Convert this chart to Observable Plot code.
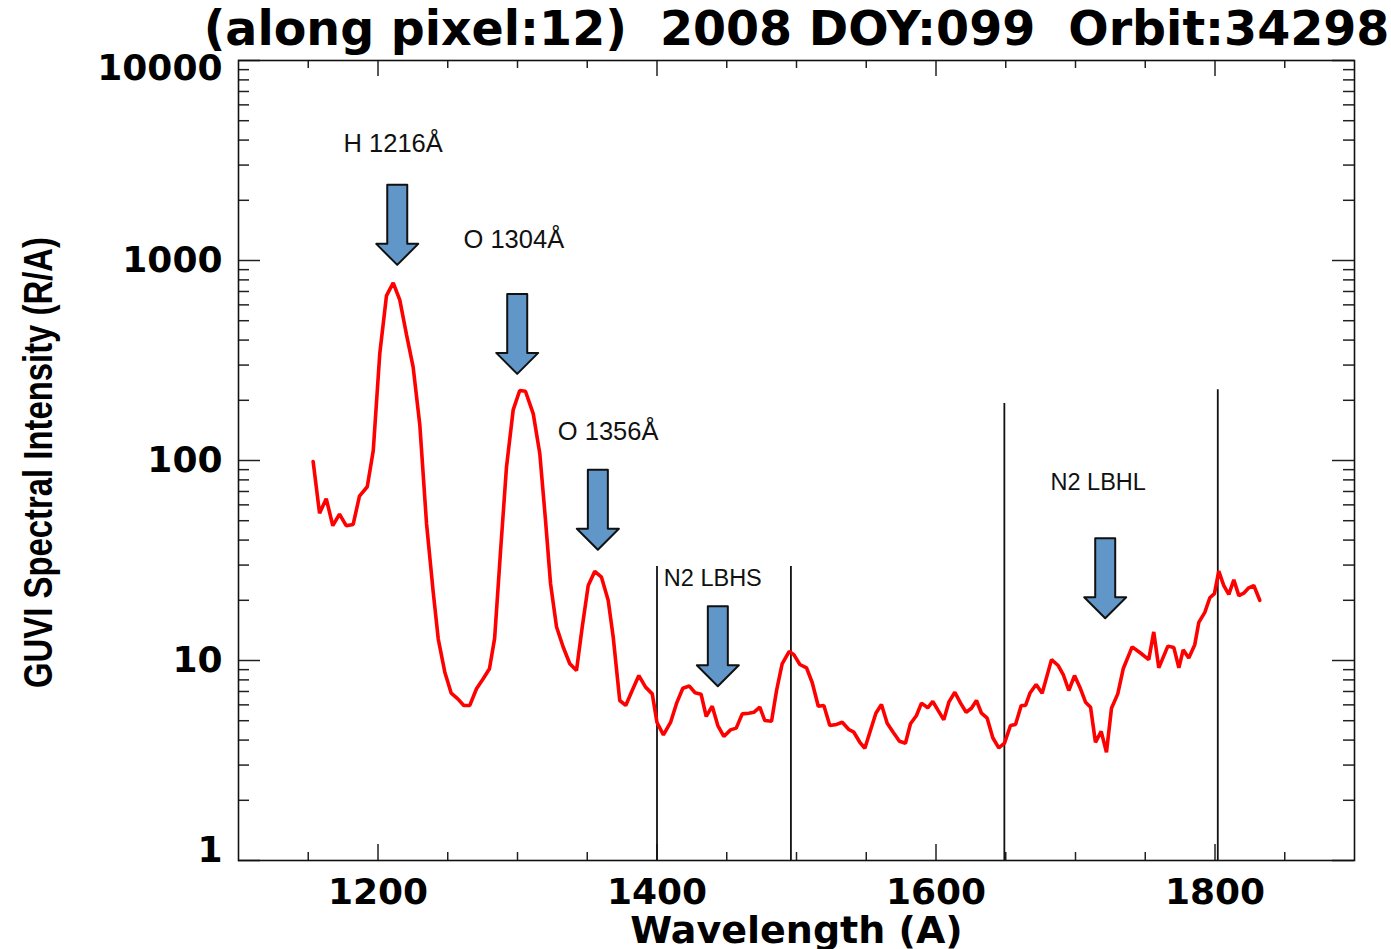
<!DOCTYPE html>
<html><head><meta charset="utf-8">
<script src="https://cdn.jsdelivr.net/npm/d3@7"></script>
<script src="https://cdn.jsdelivr.net/npm/@observablehq/plot@0.6"></script>
<style>
body{margin:0;background:#fff;overflow:hidden}
svg{display:block}
svg text{white-space:pre}
</style>
</head><body><div id="chart"></div>
<script>
// ---- data ----
const wavelength = [1153.5,1158.1,1162.9,1167.6,1172.4,1177.2,1182.2,1186.7,1192.3,1196.6,
1201.3,1206.1,1210.9,1215.6,1220.4,1225.2,1230.0,1234.8,1239.6,1243.2,
1247.9,1252.5,1257.2,1261.5,1265.8,1270.6,1275.4,1279.9,1283.6,1287.8,
1292.1,1296.9,1301.6,1305.7,1311.3,1316.0,1320.1,1323.7,1328.0,1332.8,
1337.5,1342.3,1346.4,1350.7,1355.4,1360.2,1365.0,1368.6,1373.3,1377.6,
1382.2,1387.0,1391.8,1396.6,1400.0,1404.6,1409.7,1414.0,1418.5,1423.2,
1427.3,1431.6,1435.3,1439.6,1443.6,1447.9,1452.7,1456.8,1461.1,1465.8,
1469.4,1473.7,1477.3,1482.1,1485.7,1489.7,1494.8,1498.1,1502.4,1507.2,
1511.3,1515.6,1519.6,1523.9,1528.7,1532.8,1537.5,1541.1,1545.4,1549.0,
1553.0,1556.9,1560.9,1565.0,1569.3,1573.8,1578.1,1581.7,1586.0,1589.6,
1594.1,1597.7,1601.6,1605.6,1609.2,1613.5,1617.6,1621.6,1625.4,1629.0,
1632.6,1636.7,1640.7,1645.0,1649.1,1653.4,1657.0,1661.1,1664.2,1667.5,
1671.8,1676.1,1682.8,1687.6,1691.2,1695.2,1699.3,1703.6,1707.2,1710.8,
1714.3,1718.4,1722.2,1725.8,1730.3,1734.2,1740.6,1746.6,1752.5,1756.1,
1759.7,1766.2,1770.5,1774.1,1777.2,1781.2,1785.5,1788.4,1792.7,1796.3,
1799.6,1802.7,1806.3,1809.9,1813.5,1817.1,1820.6,1824.2,1827.8,1832.1];
const intensity = [98.9,54.5,64.4,47.2,53.9,47.2,47.9,66.3,73.9,112,
344,668,773,636,427,293,150,48.3,21.9,12.8,
8.74,6.86,6.43,5.96,5.96,7.22,8.10,9.09,12.9,34.8,
92.6,179,224,222,171,108,50.1,24.2,14.7,11.65,
9.63,8.91,14.7,23.7,27.9,26.1,20.0,13.1,6.31,5.96,
7.08,8.41,7.36,6.81,4.9,4.25,4.9,6.1,7.27,7.45,
6.9,6.78,5.25,5.91,4.73,4.17,4.50,4.59,5.41,5.45,
5.51,5.84,5.01,4.97,7.08,9.63,11.1,10.7,9.55,9.19,
7.74,5.91,5.96,4.73,4.79,4.91,4.52,4.38,3.90,3.64,
4.47,5.45,6.03,4.86,4.38,3.95,3.86,4.83,5.31,6.12,
5.80,6.24,5.62,5.05,6.19,6.94,6.12,5.51,5.77,6.31,
5.45,5.15,4.11,3.66,3.86,4.73,4.79,5.96,5.96,6.9,
7.59,6.86,10.1,9.44,8.51,7.08,8.41,7.22,6.19,5.84,
3.90,4.42,3.48,5.77,6.81,9.09,11.7,10.9,10.1,13.9,
9.19,11.8,11.6,9.19,11.3,10.3,12.0,15.5,17.4,20.6,
21.6,28.0,23.7,21.4,25.3,21.1,21.7,23.1,23.7,20.0];

const xMajorTicks = [1200,1400,1600,1800];
const xMinorTicks = [1150,1250,1300,1350,1450,1500,1550,1650,1700,1750,1850];
const yMajorTicks = [1,10,100,1000,10000];
const yTickLabels = ["1","10","100","1000","10000"];
const yMinorTicks = [2,3,4,5,6,7,8,9,20,30,40,50,60,70,80,90,200,300,400,500,600,700,800,900,2000,3000,4000,5000,6000,7000,8000,9000];

const bandX = [1400,1496,1649,1802];
const bandTop = [29.5,29.5,193,226];

const arrowX = [1213.8,1299.8,1357.6,1443.6,1721.3];
const arrowTip = [951,271,35.8,7.44,16.27];

const lineLabels = ["H 1216Å","O 1304Å","O 1356Å"];
const lineLabelX = [1175.3,1261.3,1328.9];
const lineLabelY = [3824,1274,138.8];
const bandLabels = ["N2 LBHS","N2 LBHL"];
const bandLabelX = [1404.9,1682.1];
const bandLabelY = [25.85,77.6];

const titleText = "(along pixel:12)  2008 DOY:099  Orbit:34298";
const xTitle = "Wavelength (A)";
const yTitle = "GUVI Spectral Intensity (R/A)";

// ---- tables ----
const spectrum = wavelength.map((w, i) => ({w, v: intensity[i]}));
const bands = bandX.map((x, i) => ({x, top: bandTop[i]}));
const arrows = arrowX.map((x, i) => ({x, y: arrowTip[i]}));
const lineLab = lineLabels.map((t, i) => ({t, x: lineLabelX[i], y: lineLabelY[i]}));
const bandLab = bandLabels.map((t, i) => ({t, x: bandLabelX[i], y: bandLabelY[i]}));
const yLab = yMajorTicks.map((v, i) => ({v, t: yTickLabels[i]}));
const yLabTop = yLab.filter(d => d.v === 10000);
const yLabBottom = yLab.filter(d => d.v === 1);
const yLabMid = yLab.filter(d => d.v !== 1 && d.v !== 10000);

const W = 1391, H = 949, mL = 238, mR = 37, mT = 60, mB = 89;
const fw = W - mL - mR, fh = H - mT - mB;
const yTitleLength = 451;

const blockArrow = {
  draw(context, l) {
    const hw = 21, sw = 10, hl = 21;
    context.moveTo(-sw, 0);
    context.lineTo(-sw, -l + hl);
    context.lineTo(-hw, -l + hl);
    context.lineTo(0, -l);
    context.lineTo(hw, -l + hl);
    context.lineTo(sw, -l + hl);
    context.lineTo(sw, 0);
    context.closePath();
  }
};

const boldFont = "DejaVu Sans";
const tickStroke = "#222";
const yLabStyle = {y: "v", text: "t", frameAnchor: "left", textAnchor: "end", lineAnchor: "middle",
  dx: -16, fontSize: 36, fontWeight: "bold", fontFamily: boldFont, fill: "#000"};

const chart = Plot.plot({
  width: W, height: H,
  marginLeft: mL, marginRight: mR, marginTop: mT, marginBottom: mB,
  x: {domain: [1100, 1900], axis: null},
  y: {type: "log", domain: [1, 10000], axis: null},
  style: {background: "white", overflow: "visible"},
  marks: [
    // ticks (inward), bottom/top
    Plot.tickX(xMajorTicks, {x: d => d, insetTop: fh - 16, stroke: tickStroke, strokeWidth: 1.5}),
    Plot.tickX(xMajorTicks, {x: d => d, insetBottom: fh - 16, stroke: tickStroke, strokeWidth: 1.5}),
    Plot.tickX(xMinorTicks, {x: d => d, insetTop: fh - 8, stroke: tickStroke, strokeWidth: 1.5}),
    Plot.tickX(xMinorTicks, {x: d => d, insetBottom: fh - 8, stroke: tickStroke, strokeWidth: 1.5}),
    // ticks left/right
    Plot.tickY(yMajorTicks, {y: d => d, insetRight: fw - 22, stroke: tickStroke, strokeWidth: 1.5}),
    Plot.tickY(yMajorTicks, {y: d => d, insetLeft: fw - 22, stroke: tickStroke, strokeWidth: 1.5}),
    Plot.tickY(yMinorTicks, {y: d => d, insetRight: fw - 11, stroke: tickStroke, strokeWidth: 1.5}),
    Plot.tickY(yMinorTicks, {y: d => d, insetLeft: fw - 11, stroke: tickStroke, strokeWidth: 1.5}),
    Plot.frame({stroke: "#111", strokeWidth: 1.6}),
    // band boundary lines
    Plot.ruleX(bands, {x: "x", y1: 1, y2: "top", stroke: "#111", strokeWidth: 1.8}),
    // spectrum
    Plot.line(spectrum, {x: "w", y: "v", stroke: "#ff0000", strokeWidth: 3.6, strokeLinejoin: "miter"}),
    // arrows
    Plot.vector(arrows, {x: "x", y: "y", length: 80, rotate: 180, anchor: "end", shape: blockArrow,
      fill: "#6196c9", stroke: "#111", strokeWidth: 2}),
    // labels
    Plot.text(lineLab, {x: "x", y: "y", text: "t", textAnchor: "start", fontSize: 25.5,
      fontFamily: "Liberation Sans, Arial, sans-serif", fill: "#111"}),
    Plot.text(bandLab, {x: "x", y: "y", text: "t", textAnchor: "start", fontSize: 23.5,
      fontFamily: "Liberation Sans, Arial, sans-serif", fill: "#111"}),
    // tick labels
    Plot.text(xMajorTicks, {x: d => d, text: d => String(d), frameAnchor: "bottom", lineAnchor: "middle", dy: 32,
      fontSize: 36, fontWeight: "bold", fontFamily: boldFont, fill: "#000"}),
    Plot.text(yLabMid, yLabStyle),
    Plot.text(yLabTop, {...yLabStyle, dy: 8}),
    Plot.text(yLabBottom, {...yLabStyle, dy: -10}),
    // titles
    Plot.text([titleText], {text: d => d, frameAnchor: "top", lineAnchor: "middle", dy: -31, fontSize: 47.5,
      fontWeight: "bold", fontFamily: boldFont, fill: "#000"}),
    Plot.text([xTitle], {text: d => d, frameAnchor: "bottom", lineAnchor: "middle", dy: 70, fontSize: 38,
      fontWeight: "bold", fontFamily: boldFont, fill: "#000"}),
    Plot.text([yTitle], {text: d => d, frameAnchor: "left", textAnchor: "start", lineAnchor: "middle",
      dx: -199, dy: yTitleLength / 2 + 2, rotate: -90, fontSize: 40,
      fontWeight: "bold", fontFamily: "Liberation Sans, Arial, sans-serif", fill: "#000"})
  ]
});
// condense the y title to the narrow-face width of the reference
d3.select(chart).selectAll("text")
  .filter(function () { return this.textContent === yTitle; })
  .attr("textLength", yTitleLength).attr("lengthAdjust", "spacingAndGlyphs");
document.getElementById("chart").appendChild(chart);
</script>
</body></html>
